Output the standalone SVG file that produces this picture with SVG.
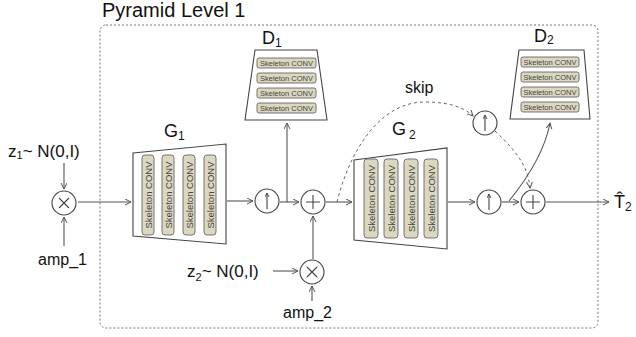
<svg xmlns="http://www.w3.org/2000/svg" width="636" height="337" viewBox="0 0 636 337">
<style>
.ln{fill:none;stroke:#555;stroke-width:1.1}
.ds{fill:none;stroke:#666;stroke-width:1;stroke-dasharray:3 3}
.frame{fill:none;stroke:#777;stroke-width:1;stroke-dasharray:2 2}
.trap{fill:#fff;stroke:#444;stroke-width:1.1}
.box{fill:#dcd8c0;stroke:#666;stroke-width:0.9}
.bt{font-family:"Liberation Sans",sans-serif;font-size:7.5px;fill:#444}
.vt{font-family:"Liberation Sans",sans-serif;font-size:9.5px;fill:#444}
.lb{font-family:"Liberation Sans",sans-serif;fill:#111}
.op{fill:#fff;stroke:#444;stroke-width:1.1}
.sym{fill:none;stroke:#444;stroke-width:1.1}
</style>
<defs>
<marker id="ah" markerWidth="8" markerHeight="8" refX="6" refY="3" orient="auto" markerUnits="userSpaceOnUse"><path d="M0,0 L6,3 L0,6" fill="none" stroke="#555" stroke-width="1"/></marker>
<marker id="sh" markerWidth="6" markerHeight="6" refX="4" refY="2" orient="auto" markerUnits="userSpaceOnUse"><path d="M0,0 L4,2 L0,4" fill="none" stroke="#444" stroke-width="0.9"/></marker>
</defs>

<rect class="frame" x="100" y="25" width="498" height="303" rx="6"/>
<text class="lb" x="102" y="17" font-size="20">Pyramid Level 1</text>

<g id="connectors">
<line class="ln" x1="64" y1="163" x2="64" y2="189" marker-end="url(#ah)"/>
<line class="ln" x1="64" y1="246" x2="64" y2="217" marker-end="url(#ah)"/>
<line class="ln" x1="78" y1="202" x2="131" y2="202" marker-end="url(#ah)"/>
<line class="ln" x1="227" y1="201" x2="253" y2="201" marker-end="url(#ah)"/>
<line class="ln" x1="280" y1="202" x2="299" y2="202" marker-end="url(#ah)"/>
<line class="ln" x1="287" y1="202" x2="287" y2="123" marker-end="url(#ah)"/>
<line class="ln" x1="313" y1="259" x2="313" y2="216" marker-end="url(#ah)"/>
<line class="ln" x1="273" y1="271" x2="298" y2="271" marker-end="url(#ah)"/>
<line class="ln" x1="312" y1="301" x2="312" y2="286" marker-end="url(#ah)"/>
<line class="ln" x1="326" y1="202" x2="352" y2="202" marker-end="url(#ah)"/>
<path class="ds" d="M337,202 C350,150 380,102 425,102 C450,102 465,108 473,116" marker-end="url(#ah)"/>
<path class="ds" d="M495,131 C515,150 528,165 530,188" marker-end="url(#ah)"/>
<line class="ln" x1="448" y1="202" x2="475" y2="202" marker-end="url(#ah)"/>
<line class="ln" x1="502" y1="202" x2="519" y2="202" marker-end="url(#ah)"/>
<path class="ln" d="M509,201 C530,175 545,150 550,123" marker-end="url(#ah)"/>
<line class="ln" x1="546" y1="202" x2="609" y2="202" marker-end="url(#ah)"/>
</g>

<g id="mul1">
<circle class="op" cx="64" cy="203" r="12"/>
<path class="sym" d="M59,198 L69,208 M69,198 L59,208"/>
</g>

<g id="G1">
<text class="lb" x="164" y="137" font-size="18">G<tspan font-size="12" dy="3">1</tspan></text>
<polygon class="trap" points="133,153 226,144 226,244 133,236"/>
<rect class="box" x="142" y="155" width="12" height="80" rx="3"/>
<rect class="box" x="162" y="155" width="12" height="80" rx="3"/>
<rect class="box" x="183" y="155" width="12" height="80" rx="3"/>
<rect class="box" x="204" y="155" width="12" height="80" rx="3"/>
<text class="vt" text-anchor="middle" transform="translate(151.5,195) rotate(-90)">Skeleton CONV</text>
<text class="vt" text-anchor="middle" transform="translate(171.5,195) rotate(-90)">Skeleton CONV</text>
<text class="vt" text-anchor="middle" transform="translate(192.5,195) rotate(-90)">Skeleton CONV</text>
<text class="vt" text-anchor="middle" transform="translate(213.5,195) rotate(-90)">Skeleton CONV</text>
</g>

<g id="up1">
<circle class="op" cx="267" cy="201" r="12"/>
<line class="sym" x1="267" y1="209" x2="267" y2="193" marker-end="url(#sh)"/>
</g>

<g id="plus1">
<circle class="op" cx="313" cy="202" r="12"/>
<path class="sym" d="M306,202 L320,202 M313,195 L313,209"/>
</g>

<g id="D1">
<text class="lb" x="262" y="44" font-size="18">D<tspan font-size="12" dy="3">1</tspan></text>
<polygon class="trap" points="255,50 317,50 327,120 245,120"/>
<rect class="box" x="257" y="58" width="59" height="10" rx="2"/>
<rect class="box" x="257" y="73" width="59" height="10" rx="2"/>
<rect class="box" x="257" y="88" width="59" height="10" rx="2"/>
<rect class="box" x="257" y="103" width="59" height="10" rx="2"/>
<text class="bt" x="286.5" y="65.7" text-anchor="middle">Skeleton CONV</text>
<text class="bt" x="286.5" y="80.7" text-anchor="middle">Skeleton CONV</text>
<text class="bt" x="286.5" y="95.7" text-anchor="middle">Skeleton CONV</text>
<text class="bt" x="286.5" y="110.7" text-anchor="middle">Skeleton CONV</text>
</g>

<g id="mul2">
<circle class="op" cx="312" cy="272" r="12"/>
<path class="sym" d="M307,267 L317,277 M317,267 L307,277"/>
</g>

<g id="G2">
<text class="lb" x="392" y="135" font-size="18">G<tspan font-size="12" dy="4" dx="3">2</tspan></text>
<polygon class="trap" points="354,160 447,148 447,249 354,240"/>
<rect class="box" x="364" y="159" width="14" height="79" rx="3"/>
<rect class="box" x="384" y="159" width="14" height="79" rx="3"/>
<rect class="box" x="404" y="159" width="14" height="79" rx="3"/>
<rect class="box" x="424" y="159" width="14" height="79" rx="3"/>
<text class="vt" text-anchor="middle" transform="translate(374.5,198.5) rotate(-90)">Skeleton CONV</text>
<text class="vt" text-anchor="middle" transform="translate(394.5,198.5) rotate(-90)">Skeleton CONV</text>
<text class="vt" text-anchor="middle" transform="translate(414.5,198.5) rotate(-90)">Skeleton CONV</text>
<text class="vt" text-anchor="middle" transform="translate(434.5,198.5) rotate(-90)">Skeleton CONV</text>
</g>

<g id="upskip">
<circle class="op" cx="485" cy="123" r="12"/>
<line class="sym" x1="485" y1="131" x2="485" y2="115" marker-end="url(#sh)"/>
</g>

<g id="up2">
<circle class="op" cx="489" cy="202" r="12"/>
<line class="sym" x1="489" y1="210" x2="489" y2="194" marker-end="url(#sh)"/>
</g>

<g id="plus2">
<circle class="op" cx="533" cy="202" r="12"/>
<path class="sym" d="M526,202 L540,202 M533,195 L533,209"/>
</g>

<g id="D2">
<text class="lb" x="534" y="42" font-size="18">D<tspan font-size="12" dy="2">2</tspan></text>
<polygon class="trap" points="519,50 584,50 590,119 510,119"/>
<rect class="box" x="521" y="57" width="58" height="10" rx="2"/>
<rect class="box" x="521" y="72" width="58" height="10" rx="2"/>
<rect class="box" x="521" y="87" width="58" height="10" rx="2"/>
<rect class="box" x="521" y="102" width="58" height="10" rx="2"/>
<text class="bt" x="550" y="64.7" text-anchor="middle">Skeleton CONV</text>
<text class="bt" x="550" y="79.7" text-anchor="middle">Skeleton CONV</text>
<text class="bt" x="550" y="94.7" text-anchor="middle">Skeleton CONV</text>
<text class="bt" x="550" y="109.7" text-anchor="middle">Skeleton CONV</text>
</g>

<g id="labels">
<text class="lb" x="8" y="157" font-size="17">z<tspan font-size="11" dy="2">1</tspan><tspan dy="-2">~ N(0,I)</tspan></text>
<text class="lb" x="38" y="265" font-size="16">amp_1</text>
<text class="lb" x="187" y="277" font-size="17">z<tspan font-size="11" dy="4">2</tspan><tspan dy="-4">~ N(0,I)</tspan></text>
<text class="lb" x="283" y="318" font-size="16">amp_2</text>
<text class="lb" x="405" y="93" font-size="16">skip</text>
<text class="lb" x="614" y="208" font-size="18">T&#x302;<tspan font-size="12" dy="3">2</tspan></text>
</g>
</svg>
